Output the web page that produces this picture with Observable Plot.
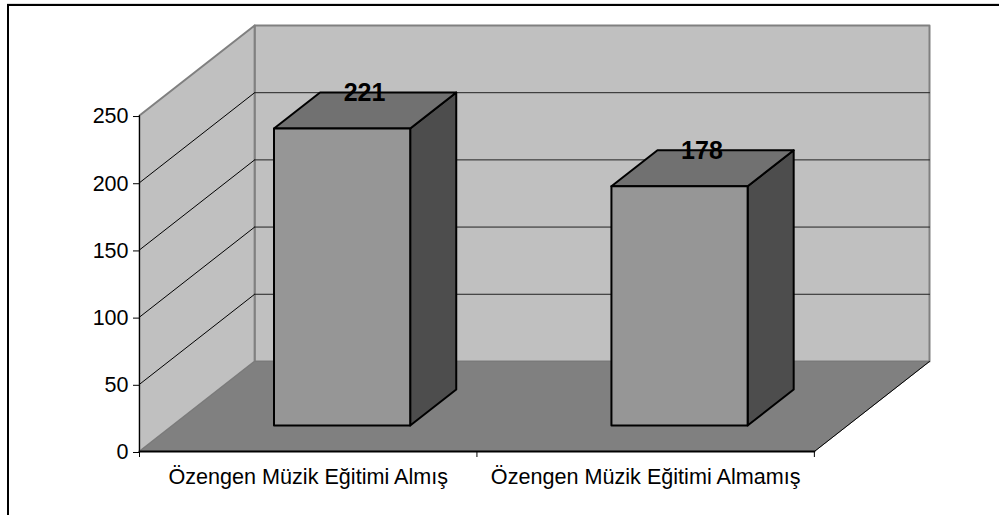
<!DOCTYPE html>
<html>
<head>
<meta charset="utf-8">
<script src="https://cdn.jsdelivr.net/npm/d3@7"></script>
<script src="https://cdn.jsdelivr.net/npm/@observablehq/plot@0.6"></script>
<style>
html,body{margin:0;padding:0;background:#fff;overflow:hidden}
#frame{position:absolute;left:7px;top:4px;width:992px;height:511px;border-left:2px solid #000;border-top:2px solid #000;box-shadow:0 -1px 0 #ddd;box-sizing:border-box}
#chart{position:absolute;left:0;top:0}
svg{background:transparent !important}
</style>
</head>
<body>
<div id="chart"></div>
<div id="frame"></div>
<script>
const categories = ["Özengen Müzik Eğitimi Almış", "Özengen Müzik Eğitimi Almamış"];
const values = [221, 178];
const yTicks = [0, 50, 100, 150, 200, 250];
const gridValues = [50, 100, 150, 200];

// oblique depth of the 3-D box, in category units and value units
const depthX = 0.3412, depthY = 67;
const barFront = 0.289, barBack = 0.689, barStart = 0.3, barWidth = 0.4036;
const yMax = 250;

const pt = (x, v, d) => ({x: x + d * depthX, y: v + d * depthY});
const poly = (...p) => [...p, p[0]];
const face = (pts, fill, stroke = "none", strokeWidth = 0) =>
  Plot.line(pts, {x: "x", y: "y", fill, stroke, strokeWidth, curve: "linear"});
const seg = (a, b, stroke, strokeWidth) =>
  Plot.line([a, b], {x: "x", y: "y", stroke, strokeWidth});

const nCat = categories.length;
const marks = [];

// walls and floor
marks.push(face(poly(pt(0,0,1), pt(nCat,0,1), pt(nCat,yMax,1), pt(0,yMax,1)), "#c0c0c0", "#808080", 2));
marks.push(face(poly(pt(0,0,0), pt(0,0,1), pt(0,yMax,1), pt(0,yMax,0)), "#c0c0c0", "#808080", 2));
marks.push(face(poly(pt(0,0,0), pt(nCat,0,0), pt(nCat,0,1), pt(0,0,1)), "#808080", "#7a7a7a", 1));

// gridlines
for (const v of gridValues) {
  marks.push(seg(pt(0,v,0), pt(0,v,1), "#000", 1));
  marks.push(seg(pt(0,v,1), pt(nCat,v,1), "#222", 1));
}
marks.push(seg(pt(nCat,0,0), pt(nCat,0,1), "#000", 1));
marks.push(seg(pt(0,0,0), pt(nCat,0,0), "#000", 2));
marks.push(seg(pt(0,0,0), pt(0,yMax,0), "#000", 1));

// axes
marks.push(Plot.axisY({ticks: yTicks, tickSize: 6, tickPadding: 5, fontSize: 21.5, dy: 1, label: null, tickFormat: d => d}));
marks.push(Plot.axisX({ticks: [0, 1, 2], tickSize: 6, tickFormat: () => "", label: null}));
marks.push(Plot.axisX({ticks: categories.map((_, i) => i + 0.5), tickSize: 0, tickPadding: 17, fontSize: 21.6,
  tickFormat: d => categories[d - 0.5], label: null}));

// bars
values.forEach((v, i) => {
  const x0 = i + barStart, x1 = x0 + barWidth;
  const st = "#000", sw = 2;
  marks.push(face(poly(pt(x1,0,barFront), pt(x1,0,barBack), pt(x1,v,barBack), pt(x1,v,barFront)), "#4d4d4d", st, sw));
  marks.push(face(poly(pt(x0,v,barFront), pt(x1,v,barFront), pt(x1,v,barBack), pt(x0,v,barBack)), "#717171", st, sw));
  marks.push(face(poly(pt(x0,0,barFront), pt(x1,0,barFront), pt(x1,v,barFront), pt(x0,v,barFront)), "#969696", st, sw));
});

// value labels
const mid = (barFront + barBack) / 2;
marks.push(Plot.text(values.map((v, i) => ({
  x: i + 0.5 + mid * depthX, y: v + barBack * depthY, label: String(v)
})), {x: "x", y: "y", text: "label", fontSize: 25, fontWeight: "bold", fill: "#000", dy: 1}));

const plot = Plot.plot({
  width: 999, height: 515,
  marginTop: 25, marginBottom: 64, marginLeft: 139, marginRight: 70,
  x: {domain: [0, nCat + depthX], axis: null},
  y: {domain: [0, yMax + depthY], axis: null},
  style: {fontFamily: "'Liberation Sans', Arial, sans-serif", color: "#000", background: "transparent"},
  marks
});
document.getElementById("chart").appendChild(plot);
</script>
</body>
</html>
